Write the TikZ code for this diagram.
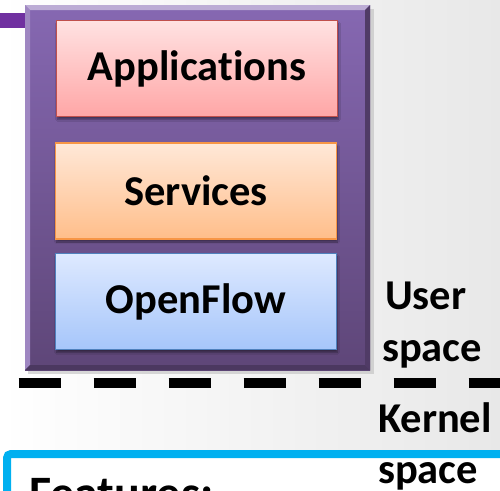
\documentclass[tikz,border=0pt]{standalone}
\usepackage{fontspec}
\setmainfont{Carlito}[Ligatures=NoCommon]
\usetikzlibrary{shadows.blur}
\definecolor{purpleA}{HTML}{8668B2}
\definecolor{purpleB}{HTML}{5E4678}
\definecolor{purpleBar}{HTML}{7030A0}
\definecolor{appEdge}{HTML}{C0504D}
\definecolor{appTop}{HTML}{FFE2E2}
\definecolor{appBot}{HTML}{FFA6A6}
\definecolor{srvEdge}{HTML}{F79646}
\definecolor{srvTop}{HTML}{FFE8D8}
\definecolor{srvBot}{HTML}{FFBE8A}
\definecolor{ofEdge}{HTML}{4F81BD}
\definecolor{ofTop}{HTML}{DEE9FF}
\definecolor{ofBot}{HTML}{A6C6FA}
\definecolor{cyanEdge}{HTML}{00B0F0}
\tikzset{
  layerbox/.style={minimum width=281pt, minimum height=96pt, line width=1.6pt,
    font=\bfseries\fontsize{42.5}{46}\selectfont, inner sep=0pt,
    blur shadow={shadow xshift=1pt, shadow yshift=-3pt, shadow blur steps=6, shadow opacity=45}},
  appbox/.style={layerbox, draw=appEdge, top color=appTop, bottom color=appBot},
  srvbox/.style={layerbox, draw=srvEdge, top color=srvTop, bottom color=srvBot},
  ofbox/.style={layerbox, draw=ofEdge, top color=ofTop, bottom color=ofBot},
  sidetext/.style={font=\bfseries\fontsize{42.5}{46}\selectfont, anchor=base west, inner sep=0pt},
}
\begin{document}
\begin{tikzpicture}[x=1pt, y=-1pt]
  % page and background
  \useasboundingbox (0,0) rectangle (500,490);
  \shade[left color=white, right color=black!9] (0,0) rectangle (500,490);
  % purple rule on the left edge
  \fill[purpleBar] (0,13) rectangle (25,28);
  % user-space container with bevel
  \fill[black!25, opacity=0.6] (28,9) rectangle (374,374);
  \shade[top color=purpleA, bottom color=purpleB] (25,5) rectangle (370,370);
  \fill[purpleA!55!white] (25,5) -- (370,5) -- (365,10) -- (30,10) -- cycle;
  \fill[purpleA!80!white] (25,5) -- (30,10) -- (30,365) -- (25,370) -- cycle;
  \fill[purpleB!85!black] (370,5) -- (370,370) -- (365,365) -- (365,10) -- cycle;
  \fill[purpleB!80!black] (25,370) -- (370,370) -- (365,365) -- (30,365) -- cycle;
  % layers
  \node[appbox] (apps) at (197,68.5) {Applications};
  \node[srvbox] (srv) at (196,191) {Services};
  \node[ofbox] (of) at (196,301.5) {OpenFlow};
  % user / kernel boundary
  \coordinate (bl) at (18.5,383);
  \coordinate (br) at (500,383);
  \draw[line width=10pt, dash pattern=on 42.5pt off 32.5pt] (bl) -- (br);
  \node[sidetext] (user) at (385,309) {User};
  \node[sidetext] (uspace) at (382,361.5) {space};
  % kernel area
  \draw[cyanEdge, fill=white, line width=8pt, rounded corners=4pt] (7,454) rectangle (520,530);
  \node[sidetext] (kernel) at (378,432) {Kernel};
  \node[sidetext] (kspace) at (378,483) {space};
  \node[sidetext, font=\bfseries\fontsize{48}{52}\selectfont] (feat) at (29,509) {Features:};
\end{tikzpicture}
\end{document}
